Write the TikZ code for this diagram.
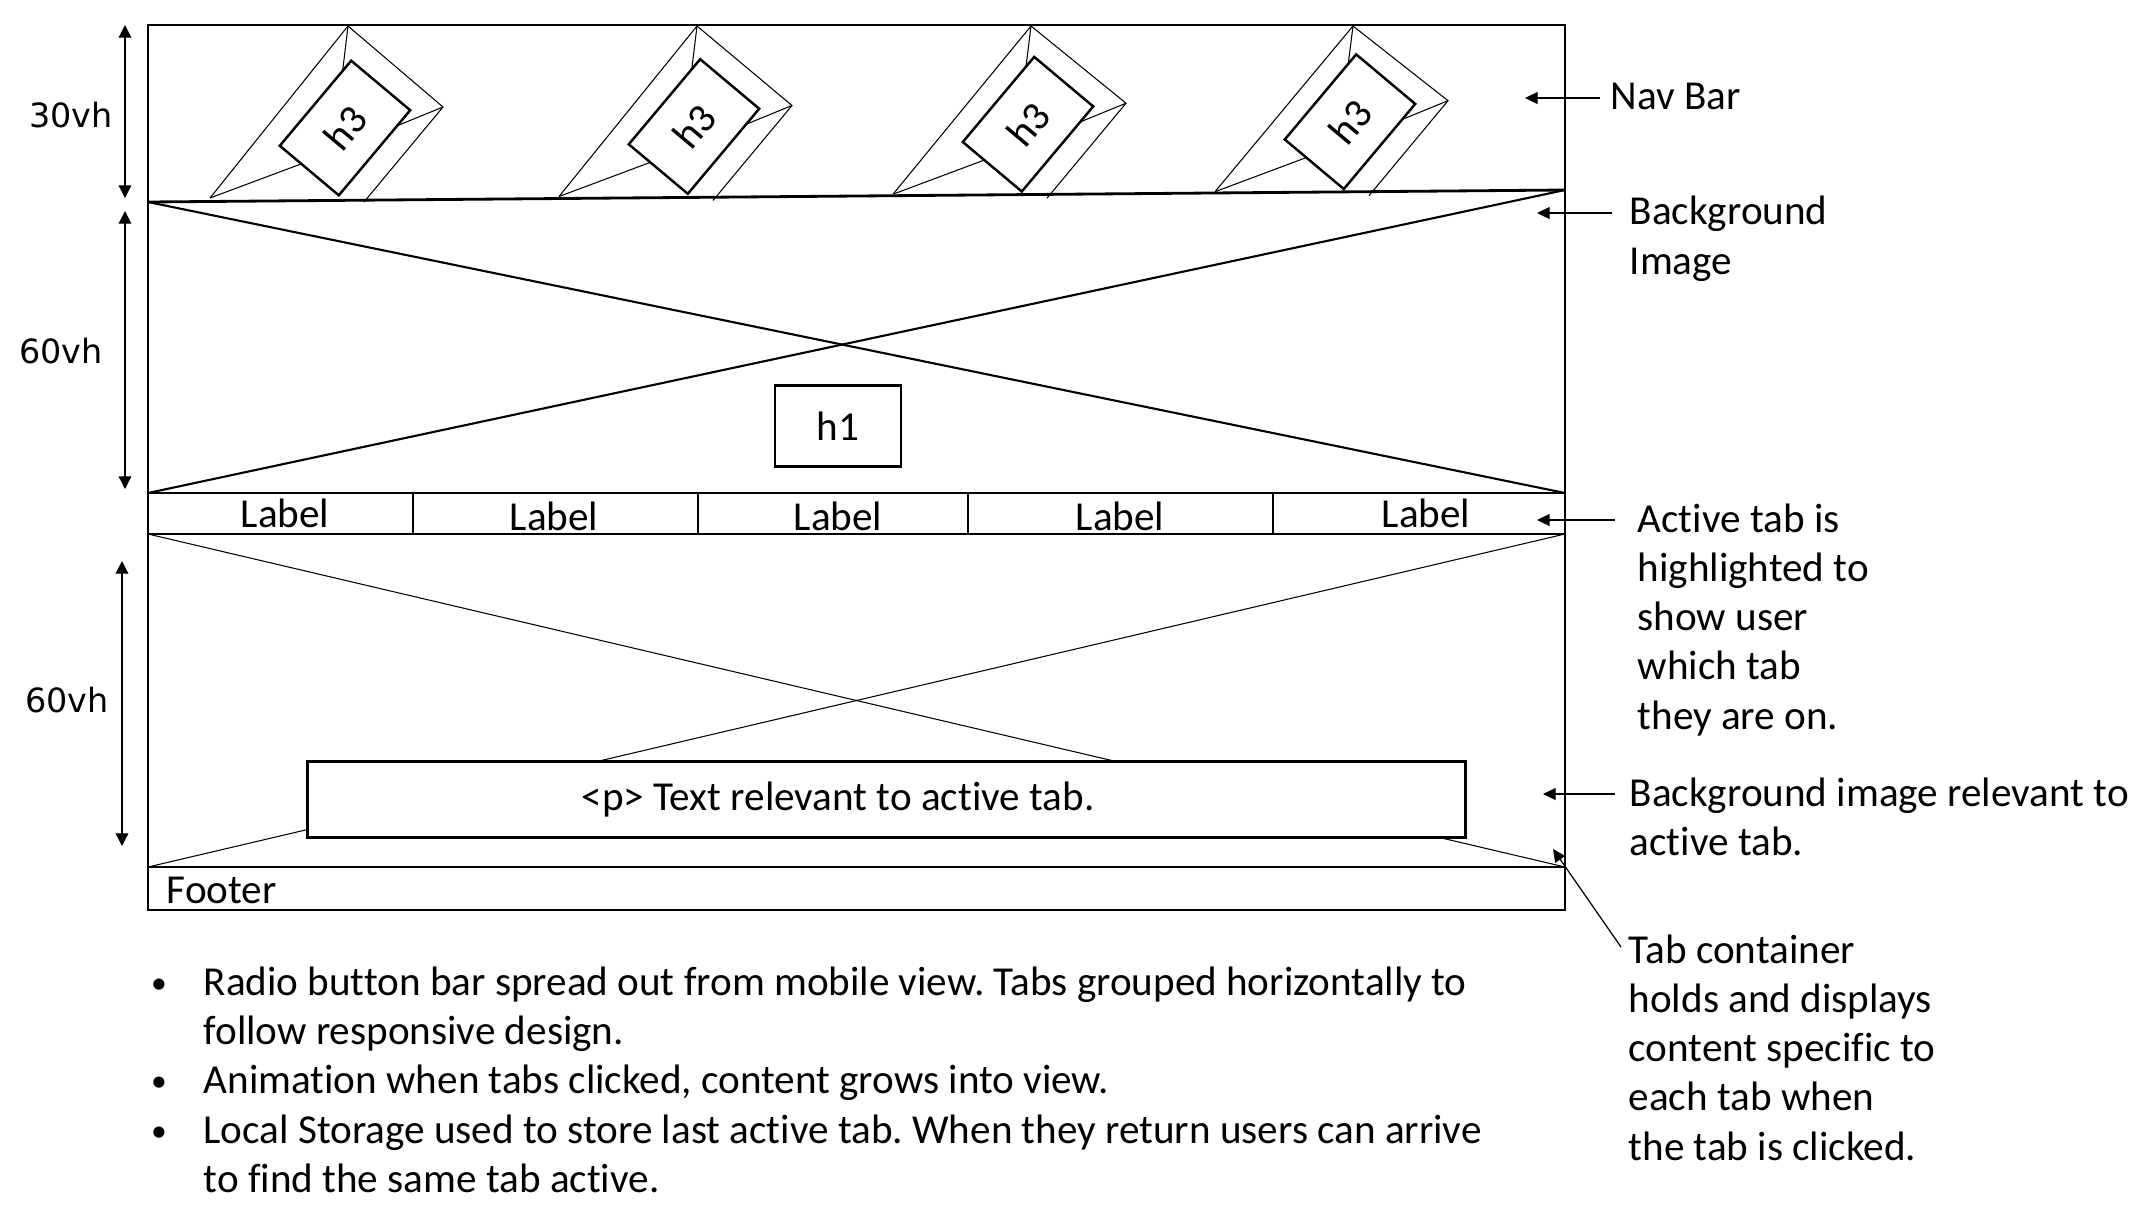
\documentclass[tikz,border=0pt]{standalone}
\usepackage{fontspec}
\setmainfont{Carlito}[Ligatures={NoCommon,NoContextual}]
\newfontfamily\vhfont{DejaVu Sans}
\usetikzlibrary{arrows.meta}
\frenchspacing
\newcommand\mainsz{\fontsize{11.7pt}{14pt}\selectfont}
\newcommand\hthree[3]{%
  \coordinate (#3A) at ({#1+3},26);
  \coordinate (#3R) at ({#1+98},{#2-21});
  \coordinate (#3B) at ({#1+19},{#2+74});
  \coordinate (#3L) at ({#1-135},{#2+70});
  \coordinate (#3C) at ({#1-12},{#2+24});
  \draw[thinline] (#3L) -- (#3A) -- (#3R) -- (#3B);
  \draw[thinline] (#3A) -- (#3C) (#3R) -- (#3C) (#3L) -- (#3C);
  \node[h3box] (#3) at (#1,#2) {h3};
}
\begin{document}
\begin{tikzpicture}[x=0.01cm,y=-0.01cm,
  frameline/.style={line width=0.8pt},
  thinline/.style={line width=0.3pt},
  heroline/.style={line width=0.6pt},
  txt/.style={inner sep=0pt,anchor=base west,font=\mainsz\frenchspacing},
  ctxt/.style={inner sep=0pt,font=\mainsz\frenchspacing},
  ptr/.style={line width=0.35pt,-{Triangle[length=3.6pt,width=3.4pt]}},
  dimarrow/.style={line width=0.35pt,{Triangle[length=3.6pt,width=3.6pt]}-{Triangle[length=3.6pt,width=3.6pt]}},
  vh/.style={font=\vhfont\fontsize{9.5pt}{11pt}\selectfont,inner sep=0pt},
  h3box/.style={draw,line width=0.7pt,fill=white,rotate=50,minimum width=1.11cm,minimum height=0.77cm,inner sep=0pt,font=\mainsz},
  boxed/.style={draw,line width=0.7pt,fill=white,inner sep=0pt},
]
\fill[white] (0,0) rectangle (2147,1220);
\useasboundingbox (0,0) rectangle (2147,1220);

% frame coordinates
\coordinate (TL) at (148,25);
\coordinate (BR) at (1565,910);
\coordinate (NL) at (148,202);
\coordinate (NR) at (1565,190);
\coordinate (TTL) at (148,493);
\coordinate (TTR) at (1565,493);
\coordinate (TBL) at (148,534);
\coordinate (TBR) at (1565,534);
\coordinate (FL) at (148,867);
\coordinate (FR) at (1565,867);

% hero background image cross
\draw[heroline] (NL) -- (TTR);
\draw[heroline] (NR) -- (TTL);
% content background cross
\draw[thinline] (TBL) -- (FR);
\draw[thinline] (TBR) -- (FL);

% nav bar h3 items
\hthree{345}{128}{hA}
\hthree{694}{126.5}{hB}
\hthree{1028}{124.2}{hC}
\hthree{1350}{121.7}{hD}

% frame
\draw[frameline] (TL) rectangle (BR);
\draw[frameline] (NL) -- (NR);
\draw[frameline] (TTL) -- (TTR);
\draw[frameline] (TBL) -- (TBR);
\draw[frameline] (FL) -- (FR);

% h1
\node[boxed,minimum width=1.26cm,minimum height=0.81cm,font=\mainsz] (h1) at (838,426) {h1};

% tab bar
\foreach \x [count=\i] in {413,698,968,1273}
  \draw[thinline] (\x,493) coordinate (dvt\i) -- (\x,534) coordinate (dvb\i);
\node[ctxt] (lab1) at (285,513) {Label};
\node[ctxt] (lab2) at (554,516) {Label};
\node[ctxt] (lab3) at (838,516) {Label};
\node[ctxt] (lab4) at (1120,516) {Label};
\node[ctxt] (lab5) at (1426,513) {Label};

% paragraph box
\node[boxed,minimum width=11.57cm,minimum height=0.76cm] (pbox) at (886.5,799.5) {};
\node[ctxt] (ptext) at (838,800) {<p> Text relevant to active tab.};

% footer
\node[ctxt,anchor=west] (footer) at (166,890) {Footer};

% dimension arrows
\coordinate (d1a) at (125,25);  \coordinate (d1b) at (125,198);
\coordinate (d2a) at (125,211); \coordinate (d2b) at (125,489);
\coordinate (d3a) at (122,561); \coordinate (d3b) at (122,846);
\draw[dimarrow] (d1a) -- (d1b);
\draw[dimarrow] (d2a) -- (d2b);
\draw[dimarrow] (d3a) -- (d3b);
\node[vh] (vh30) at (71,115) {30vh};
\node[vh] (vh60a) at (61,351) {60vh};
\node[vh] (vh60b) at (67,700) {60vh};

% right-side annotations
\node[txt] (navlbl) at (1610,109) {Nav Bar};
\node[txt] (bg1) at (1629,224) {Background};
\node[txt] (bg2) at (1629,274) {Image};
\foreach \t [count=\i] in {{Active tab is},{highlighted to},{show user},{which tab},{they are on.}}
  \node[txt] (act\i) at (1637,{532+(\i-1)*49.3}) {\t};
\node[txt] (bgr1) at (1629,806) {Background image relevant to};
\node[txt] (bgr2) at (1629,855) {active tab.};
\foreach \t [count=\i] in {{Tab container},{holds and displays},{content specific to},{each tab when},{the tab is clicked.}}
  \node[txt] (tc\i) at (1628,{963+(\i-1)*49.3}) {\t};

\coordinate (p1s) at (1600,98);  \coordinate (p1e) at (1525,98);
\coordinate (p2s) at (1612,213); \coordinate (p2e) at (1537,213);
\coordinate (p3s) at (1615,520); \coordinate (p3e) at (1537,520);
\coordinate (p4s) at (1615,794); \coordinate (p4e) at (1543,794);
\coordinate (p5s) at (1621,947); \coordinate (p5e) at (1553,849);
\draw[ptr] (p1s) -- (p1e);
\draw[ptr] (p2s) -- (p2e);
\draw[ptr] (p3s) -- (p3e);
\draw[ptr] (p4s) -- (p4e);
\draw[ptr] (p5s) -- (p5e);

% bullets
\foreach \y [count=\i] in {993,1091,1141}
  \node[inner sep=0pt,anchor=base,font=\fontsize{9pt}{10pt}\selectfont] (bul\i) at (159,\y) {•};
\node[txt] (b1a) at (203,995) {Radio button bar spread out from mobile view. Tabs grouped horizontally to};
\node[txt] (b1b) at (203,1044) {follow responsive design.};
\node[txt] (b2a) at (203,1093) {Animation when tabs clicked, content grows into view.};
\node[txt] (b3a) at (203,1143) {Local Storage used to store last active tab. When they return users can arrive};
\node[txt] (b3b) at (203,1192) {to find the same tab active.};
\end{tikzpicture}
\end{document}
